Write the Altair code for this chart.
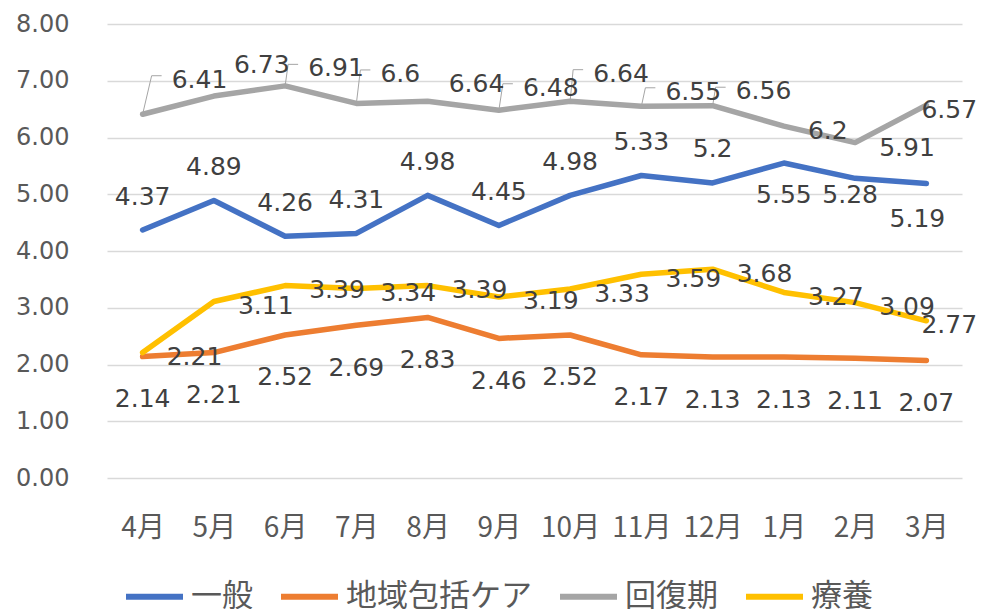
import altair as alt
import pandas as pd

# ---- data ----
months = ["4月", "5月", "6月", "7月", "8月", "9月", "10月", "11月", "12月", "1月", "2月", "3月"]
series = ["一般", "地域包括ケア", "回復期", "療養"]
ippan = [4.37, 4.89, 4.26, 4.31, 4.98, 4.45, 4.98, 5.33, 5.2, 5.55, 5.28, 5.19]
chiiki = [2.14, 2.21, 2.52, 2.69, 2.83, 2.46, 2.52, 2.17, 2.13, 2.13, 2.11, 2.07]
kaifuku = [6.41, 6.73, 6.91, 6.6, 6.64, 6.48, 6.64, 6.55, 6.56, 6.2, 5.91, 6.57]
ryoyo = [2.21, 3.11, 3.39, 3.34, 3.39, 3.19, 3.33, 3.59, 3.68, 3.27, 3.09, 2.77]
y_ticks = [0, 1, 2, 3, 4, 5, 6, 7, 8]

# ---- style ----
colors = ["#4472C4", "#ED7D31", "#A5A5A5", "#FFC000"]
W, H = 855, 454
XU = W / 12.0   # px per category
YU = H / 8.0    # px per y unit

# data-label placement (pixel offsets from each point, like Excel's manual label layout)
lab_dx = {
    "一般": [0, 0, 0, 0, 0, 0, 0, 0, 0, 0, -5, -9],
    "地域包括ケア": [0] * 12,
    "回復期": [29, 20, 23, 24, 21, 24, 23, 24, 23, 24, 24, -5],
    "療養": [24, 24, 24, 24, 24, 24, 24, 24, 24, 24, 24, -5],
}
lab_dy = {
    "一般": [-35, -35, -35, -35, -35, -35, -35, -35, -35, 30, 15, 34],
    "地域包括ケア": [41] * 12,
    "回復期": [-36, -33, -19, -31, -19, -24, -29, -16, -16, 3, 4, 3],
    "療養": [3] * 12,
}
lab_align = {"一般": "center", "地域包括ケア": "center", "回復期": "left", "療養": "left"}
leader_idx = [0, 2, 3, 5, 6, 7, 8]   # 回復期 labels with leader lines

values = {"一般": ippan, "地域包括ケア": chiiki, "回復期": kaifuku, "療養": ryoyo}

rows = []
for s in series:
    for i, v in enumerate(values[s]):
        rows.append({"series": s, "i": i, "value": v})
df = pd.DataFrame(rows)

lab_rows = []
for s in series:
    for i, v in enumerate(values[s]):
        lab_rows.append({
            "series": s,
            "lx": i + lab_dx[s][i] / XU,
            "ly": v - (lab_dy[s][i] + 1.5) / YU,
            "txt": str(v),
            "align": lab_align[s],
        })
lab_df = pd.DataFrame(lab_rows)

lead_rows = []
for k in leader_idx:
    v = kaifuku[k]
    ly = v - (lab_dy["回復期"][k] - 2.5) / YU
    lead_rows.append({"id": k, "o": 0, "x": k, "y": v})
    lead_rows.append({"id": k, "o": 1, "x": k + (lab_dx["回復期"][k] - 20) / XU, "y": ly})
    lead_rows.append({"id": k, "o": 2, "x": k + (lab_dx["回復期"][k] - 10) / XU, "y": ly})
lead_df = pd.DataFrame(lead_rows)

x_scale = alt.Scale(domain=[-0.5, 11.5], nice=False, zero=False)
y_scale = alt.Scale(domain=[0, 8], nice=False, zero=True)
color_scale = alt.Scale(domain=series, range=colors)
month_expr = "[" + ",".join("'" + m + "'" for m in months) + "][round(datum.value)]"

x_axis = alt.Axis(
    values=list(range(12)), labelExpr=month_expr, title=None, grid=False,
    domain=False, ticks=False, labelFontSize=28, labelFont="Noto Sans CJK JP",
    labelColor="#595959", labelPadding=36, labelFlush=False, labelOverlap=False,
)
y_axis = alt.Axis(
    values=y_ticks, format=".2f", title=None, domain=False, ticks=False,
    gridColor="#D9D9D9", gridWidth=1.3, labelFontSize=24, labelFont="DejaVu Sans",
    labelColor="#595959", labelPadding=38,
)

lines = alt.Chart(df).mark_line(strokeWidth=5.5, strokeCap="round", strokeJoin="round").encode(
    x=alt.X("i:Q", scale=x_scale, axis=x_axis),
    y=alt.Y("value:Q", scale=y_scale, axis=y_axis),
    color=alt.Color(
        "series:N", scale=color_scale, sort=series,
        legend=alt.Legend(
            orient="none", legendX=16, legendY=541, direction="horizontal", columns=4,
            title=None, symbolType="stroke", symbolStrokeWidth=6, symbolSize=3249,
            labelFontSize=31, labelFont="Noto Sans CJK JP", labelColor="#595959",
            labelOffset=5, columnPadding=16, padding=0, labelLimit=400,
        ),
    ),
    order=alt.Order("i:Q"),
)

leaders = alt.Chart(lead_df).mark_line(strokeWidth=1, color="#A5A5A5").encode(
    x=alt.X("x:Q", scale=x_scale),
    y=alt.Y("y:Q", scale=y_scale),
    detail="id:N",
    order=alt.Order("o:Q"),
)

def label_layer(align):
    return alt.Chart(lab_df).transform_filter(
        alt.datum.align == align
    ).mark_text(
        align=align, baseline="middle", fontSize=25, font="DejaVu Sans", color="#404040"
    ).encode(
        x=alt.X("lx:Q", scale=x_scale),
        y=alt.Y("ly:Q", scale=y_scale),
        text="txt:N",
    )

chart = alt.layer(lines, leaders, label_layer("center"), label_layer("left")).properties(
    width=W, height=H,
    background="white",
    autosize=alt.AutoSizeParams(type="none"),
    padding={"left": 99, "top": 16, "right": 14, "bottom": 131},
).configure_view(stroke=None)

chart.save("out.html", embed_options={"renderer": "svg", "actions": False})
